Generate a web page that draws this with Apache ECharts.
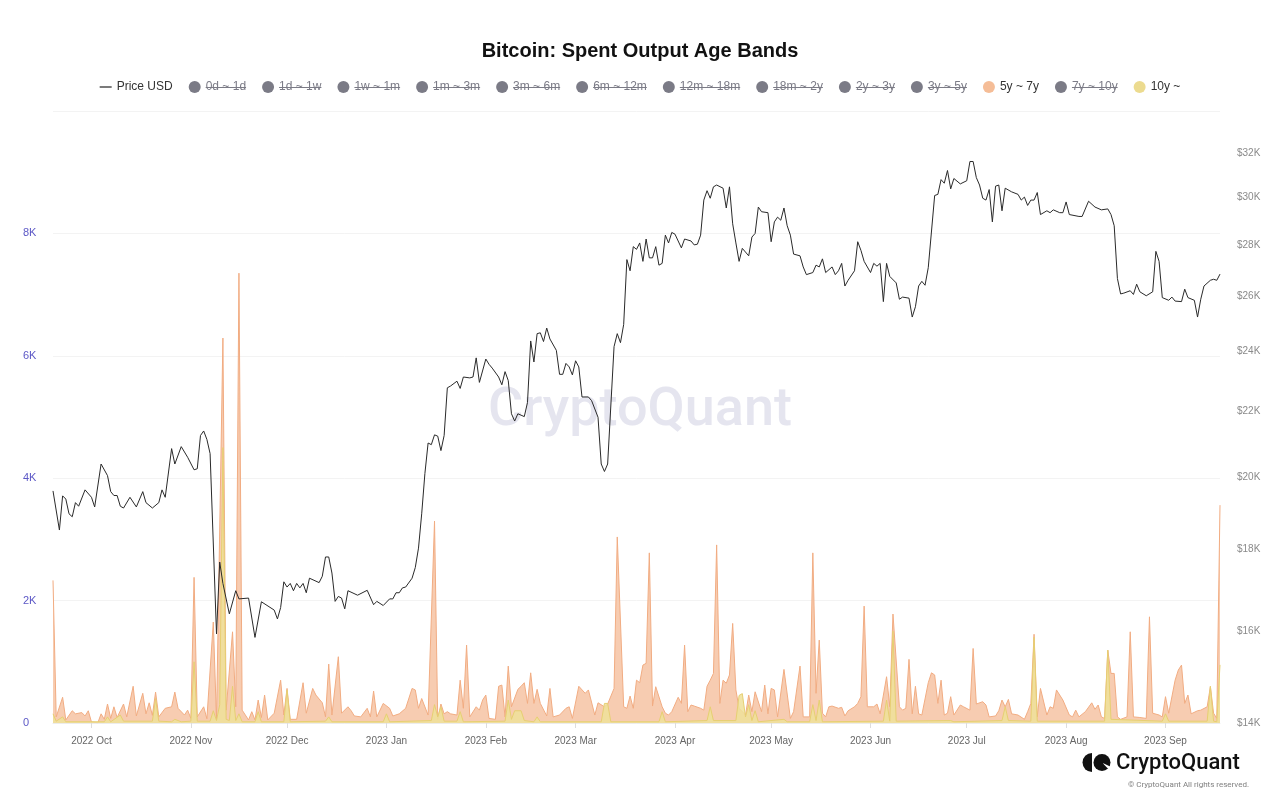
<!DOCTYPE html>
<html>
<head>
<meta charset="utf-8">
<script src="https://cdn.jsdelivr.net/npm/echarts@6.0.0/dist/echarts.min.js"></script>
<style>
html,body{margin:0;padding:0;background:#ffffff;}
#chart{width:1280px;height:806px;}
</style>
</head>
<body>
<div id="chart"></div>
<script>
// ---------- data ----------
const START_DATE = [2022, 8, 19]; // day 0 = 2022-09-19
const LAST_DAY = 364;
const monthNames = ['Jan','Feb','Mar','Apr','May','Jun','Jul','Aug','Sep','Oct','Nov','Dec'];
const leftTicks = [0, 2000, 4000, 6000, 8000, 10000];
const priceTicks = [14000,16000,18000,20000,22000,24000,26000,28000,30000,32000];

const legendNames = ['Price USD','0d ~ 1d','1d ~ 1w','1w ~ 1m','1m ~ 3m','3m ~ 6m','6m ~ 12m','12m ~ 18m','18m ~ 2y','2y ~ 3y','3y ~ 5y','5y ~ 7y','7y ~ 10y','10y ~'];
const inactiveNames = ['0d ~ 1d','1d ~ 1w','1w ~ 1m','1m ~ 3m','3m ~ 6m','6m ~ 12m','12m ~ 18m','18m ~ 2y','2y ~ 3y','3y ~ 5y','7y ~ 10y'];

// [day offset, price USD]
const pricePoints = [[0,19600],[2,18520],[3,19460],[4,19370],[5,18960],[6,18880],[7,19270],[8,19170],[10,19630],[12,19420],[13,19150],[15,20380],[17,20040],[18,19580],[19,19470],[20,19470],[21,19170],[22,19120],[24,19420],[26,19150],[28,19580],[29,19270],[31,19120],[33,19270],[34,19630],[35,19420],[37,20840],[38,20380],[40,20900],[42,20580],[44,20210],[45,20240],[46,21240],[47,21380],[48,21120],[49,20690],[51,15930],[52,17680],[53,17140],[55,16400],[57,16960],[58,16760],[61,16780],[63,15850],[65,16690],[69,16490],[70,16280],[71,16550],[72,17180],[73,17050],[74,17140],[75,16960],[76,17140],[77,17030],[78,17140],[79,16910],[80,17270],[83,17160],[84,17320],[85,17810],[86,17810],[87,17400],[88,16700],[89,16820],[90,16780],[91,16520],[92,16960],[95,16850],[98,16970],[100,16620],[101,16700],[103,16600],[105,16760],[106,16760],[107,16910],[108,16910],[109,17030],[110,17050],[112,17270],[113,17540],[114,18040],[115,18960],[116,20100],[117,21010],[118,20960],[119,21260],[120,21220],[121,20780],[122,21240],[123,22760],[124,22820],[126,22980],[127,22740],[128,23120],[130,23090],[131,23120],[132,23770],[133,22940],[135,23730],[136,23550],[137,23420],[139,23120],[140,22860],[141,23300],[142,23000],[143,21920],[144,21690],[145,21920],[147,21830],[148,22280],[149,24360],[150,23630],[151,24620],[152,24650],[153,24340],[154,24820],[155,24430],[157,24030],[158,23210],[159,23210],[160,23580],[161,23460],[162,23190],[163,23670],[164,23460],[165,22460],[167,22460],[168,22340],[170,21810],[171,20380],[172,20160],[173,20380],[175,24160],[176,24620],[177,24300],[178,24950],[179,27410],[180,26970],[181,27930],[182,27820],[183,28080],[184,27340],[185,28240],[186,27480],[187,27480],[188,27930],[189,27190],[190,27260],[191,28400],[192,28080],[193,28510],[194,28440],[196,27880],[197,28240],[199,28160],[200,28000],[201,28030],[202,28400],[203,29880],[204,30290],[205,29960],[206,30460],[207,30540],[209,30400],[210,29540],[211,30460],[212,28870],[213,28080],[214,27340],[215,27860],[217,27560],[218,28320],[219,28470],[220,29580],[221,29380],[223,29340],[224,28130],[225,28950],[226,29150],[227,29020],[228,29540],[229,28790],[230,28400],[231,27630],[233,27560],[234,27120],[235,26820],[237,26900],[238,27190],[239,27120],[240,27440],[241,26900],[243,27120],[244,26820],[245,26970],[246,27260],[247,26380],[248,26600],[250,26970],[251,28130],[252,27780],[253,27340],[255,26900],[256,27260],[257,27150],[258,27260],[259,25790],[260,27260],[261,26750],[263,26500],[264,25880],[265,25960],[267,25920],[268,25220],[269,25600],[270,26380],[271,26560],[272,26410],[273,27090],[275,30080],[276,30130],[277,30780],[278,30620],[279,31190],[280,30370],[281,30830],[283,30590],[285,30730],[286,31600],[287,31600],[288,30870],[289,30540],[290,29960],[291,29880],[292,30340],[293,28950],[294,30490],[295,30540],[296,29420],[297,30400],[299,30240],[301,30130],[302,29880],[303,30010],[304,29650],[305,29880],[306,29880],[307,30210],[308,29260],[310,29420],[311,29340],[312,29460],[314,29340],[315,29340],[316,29800],[317,29260],[320,29180],[321,29180],[323,29830],[325,29580],[327,29460],[329,29500],[330,29260],[331,28790],[332,26670],[333,26080],[334,26110],[336,26200],[337,26060],[338,26450],[339,26160],[341,26010],[343,26160],[344,27740],[345,27340],[346,25940],[348,25840],[349,25960],[350,25810],[352,25790],[353,26260],[354,25940],[356,25840],[357,25220],[358,25880],[359,26380],[361,26600],[362,26640],[363,26600],[364,26840]];

// [day offset, BTC spent] 5y ~ 7y
const band5y7y = [[0,2330],[1,100],[3,420],[4,50],[6,200],[7,150],[9,170],[10,115],[11,200],[12,16],[14,5],[15,150],[16,60],[17,310],[18,75],[19,265],[20,90],[22,310],[23,100],[25,600],[26,115],[28,485],[29,150],[30,330],[31,125],[32,505],[33,100],[35,240],[37,265],[38,505],[39,240],[41,130],[42,210],[43,75],[44,2380],[45,100],[47,265],[48,70],[50,1650],[51,50],[53,6290],[54,210],[56,1490],[57,265],[58,7350],[59,210],[61,50],[62,185],[63,50],[64,375],[65,90],[66,457],[67,50],[69,160],[71,700],[72,130],[73,565],[74,60],[76,60],[78,658],[79,160],[81,565],[82,457],[84,330],[85,100],[86,963],[87,130],[89,1083],[90,160],[92,265],[93,200],[94,115],[96,100],[98,240],[99,100],[100,522],[101,100],[103,320],[105,240],[106,115],[108,150],[110,240],[112,565],[113,540],[114,240],[115,400],[117,130],[119,3300],[120,60],[121,310],[122,150],[123,185],[124,150],[126,130],[127,700],[128,240],[129,1273],[130,100],[132,265],[133,210],[134,375],[135,457],[136,75],[138,60],[139,600],[140,620],[141,100],[142,930],[143,265],[145,550],[146,600],[147,658],[148,320],[149,820],[150,320],[151,550],[152,320],[154,115],[155,565],[156,100],[158,130],[160,240],[161,265],[162,75],[164,600],[166,485],[167,540],[169,130],[170,330],[172,265],[173,310],[175,565],[176,3040],[178,265],[179,240],[180,440],[181,240],[182,700],[183,658],[184,946],[185,975],[186,2780],[187,277],[188,593],[190,265],[191,160],[192,130],[193,185],[195,420],[196,320],[197,1273],[198,185],[199,294],[200,277],[202,240],[203,210],[204,600],[205,700],[206,810],[207,2910],[208,320],[209,700],[210,650],[211,785],[212,1627],[213,540],[214,240],[216,130],[217,457],[218,185],[219,510],[221,185],[222,620],[223,150],[224,565],[225,540],[226,100],[228,876],[230,75],[231,185],[233,930],[234,100],[236,100],[237,2780],[238,485],[239,1355],[240,160],[241,100],[242,265],[243,277],[245,240],[246,256],[247,115],[248,200],[250,265],[251,320],[252,430],[253,1910],[254,265],[256,265],[257,310],[258,150],[260,756],[261,265],[262,1780],[264,265],[265,210],[266,240],[267,1040],[268,150],[269,600],[270,150],[271,130],[273,658],[274,820],[275,785],[276,320],[277,700],[278,130],[279,160],[280,430],[281,130],[283,294],[284,265],[286,210],[287,1218],[288,310],[290,348],[291,294],[292,100],[294,115],[295,200],[296,375],[297,265],[298,386],[299,150],[301,130],[303,60],[304,185],[305,320],[306,1450],[307,100],[308,565],[310,130],[311,265],[312,240],[313,540],[315,375],[317,130],[318,100],[319,210],[320,100],[322,185],[324,330],[325,224],[326,294],[327,100],[328,75],[329,1190],[330,810],[331,810],[332,100],[333,60],[335,100],[336,1490],[337,100],[339,90],[341,75],[342,1735],[343,160],[345,130],[346,100],[347,430],[348,160],[350,700],[351,865],[352,946],[353,320],[354,457],[355,150],[357,200],[358,210],[360,265],[361,593],[362,160],[363,75],[364,3560]];

// [day offset, BTC spent] 10y ~
const band10y = [[0,150],[1,30],[3,100],[4,20],[10,20],[16,20],[17,100],[18,20],[21,130],[22,30],[31,30],[32,400],[33,30],[37,20],[38,60],[40,20],[43,30],[44,1000],[45,30],[49,30],[50,200],[51,40],[52,300],[53,4500],[54,60],[55,40],[56,600],[57,40],[58,150],[59,20],[63,20],[64,185],[65,20],[72,20],[73,540],[74,20],[85,30],[86,100],[87,20],[103,20],[104,150],[105,20],[118,40],[119,300],[120,100],[121,265],[122,30],[126,30],[127,185],[128,20],[141,30],[142,375],[143,60],[144,200],[146,200],[147,40],[150,20],[151,100],[152,20],[171,20],[172,320],[173,320],[174,20],[189,20],[190,185],[191,20],[204,40],[205,265],[206,40],[213,40],[214,450],[215,480],[216,100],[217,300],[218,40],[219,200],[220,20],[228,60],[229,20],[236,20],[237,300],[238,40],[239,375],[240,20],[259,30],[260,375],[261,30],[262,1500],[263,30],[280,40],[281,20],[296,40],[297,265],[298,40],[305,30],[306,1400],[307,30],[328,30],[329,1190],[330,60],[346,30],[347,150],[348,30],[360,30],[361,600],[362,30],[363,20],[364,950]];

// ---------- helpers ----------
const toTime = d => new Date(START_DATE[0], START_DATE[1], START_DATE[2] + d).getTime();
const toSeries = arr => arr.map(p => [toTime(p[0]), p[1]]);

const FONT = '"Liberation Sans", Arial, sans-serif';
const INACTIVE = '#7b7b86';

const chart = echarts.init(document.getElementById('chart'), null, {renderer: 'canvas'});

const selected = {};
legendNames.forEach(n => { selected[n] = inactiveNames.indexOf(n) < 0; });

const series = [];
series.push({
  name: 'Price USD', type: 'line', yAxisIndex: 1, showSymbol: false, z: 5,
  data: toSeries(pricePoints),
  itemStyle: {color: '#222222'},
  lineStyle: {color: '#2a2a2a', width: 1}
});
legendNames.slice(1).forEach(n => {
  if (n === '5y ~ 7y') {
    series.push({
      name: n, type: 'line', yAxisIndex: 0, showSymbol: false, z: 2,
      data: toSeries(band5y7y),
      itemStyle: {color: '#f5bd97'},
      lineStyle: {color: '#f1ac82', width: 1},
      areaStyle: {color: '#f6c6a8', opacity: 0.9}
    });
  } else if (n === '10y ~') {
    series.push({
      name: n, type: 'line', yAxisIndex: 0, showSymbol: false, z: 3,
      data: toSeries(band10y),
      itemStyle: {color: '#ecdb8f'},
      lineStyle: {color: '#e6cf72', width: 1},
      areaStyle: {color: '#efe09a', opacity: 0.85}
    });
  } else {
    series.push({name: n, type: 'line', yAxisIndex: 0, showSymbol: false, data: [], itemStyle: {color: INACTIVE}});
  }
});

const option = {
  animation: false,
  backgroundColor: '#ffffff',
  title: {
    text: 'Bitcoin: Spent Output Age Bands',
    left: 'center', top: 36,
    textStyle: {fontSize: 20, fontWeight: 'bold', color: '#111111', fontFamily: FONT}
  },
  legend: {
    top: 81, left: 'center', padding: 0,
    itemWidth: 12, itemHeight: 12, itemGap: 16,
    selectedMode: true,
    selected: selected,
    inactiveColor: INACTIVE,
    inactiveBorderWidth: 0,
    textStyle: {fontSize: 12, color: '#333333', fontFamily: FONT},
    data: legendNames.map(n => n === 'Price USD'
      ? {name: n, icon: 'path://M0,0h12v1.2h-12z'}
      : {name: n, icon: 'circle'})
  },
  grid: {left: 53, right: 60, top: 111, bottom: 83, containLabel: false, outerBoundsMode: 'none'},
  xAxis: {
    type: 'time',
    min: toTime(0), max: toTime(LAST_DAY),
    splitNumber: 12,
    axisLine: {show: true, lineStyle: {color: '#ececec'}},
    axisTick: {show: true, length: 5, lineStyle: {color: '#dddddd'}},
    splitLine: {show: false},
    axisLabel: {
      color: '#666666', fontSize: 10, fontFamily: FONT, margin: 13,
      showMinLabel: false, showMaxLabel: false,
      formatter: v => { const d = new Date(v); return d.getFullYear() + ' ' + monthNames[d.getMonth()]; }
    }
  },
  yAxis: [
    {
      type: 'value', position: 'left', min: leftTicks[0], max: leftTicks[leftTicks.length - 1], interval: 2000,
      axisLine: {show: false}, axisTick: {show: false},
      splitLine: {show: true, lineStyle: {color: '#f3f3f3', width: 1}},
      axisLabel: {
        showMaxLabel: false, align: 'left', margin: 30,
        color: '#5c58c6', fontSize: 11, fontFamily: FONT,
        formatter: v => v === 0 ? '0' : (v / 1000) + 'K'
      }
    },
    {
      type: 'log', logBase: 10, position: 'right', min: 14000, max: 34000,
      axisLine: {show: false}, axisTick: {show: false}, splitLine: {show: false},
      axisLabel: {
        customValues: priceTicks,
        margin: 17, color: '#8a8a8a', fontSize: 10, fontFamily: FONT,
        formatter: v => '$' + Math.round(v / 1000) + 'K'
      }
    }
  ],
  graphic: [
    {type: 'text', left: 'center', top: 384, z: 0, silent: true,
      style: {text: 'CryptoQuant', font: '500 54px Roboto, "Open Sans", sans-serif', fill: '#e5e5ef'}},
    {type: 'sector', silent: true, z: 10,
      shape: {cx: 1092, cy: 762.5, r: 9.5, r0: 0, startAngle: Math.PI / 2, endAngle: Math.PI * 1.5},
      style: {fill: '#111111'}},
    {type: 'circle', silent: true, z: 10,
      shape: {cx: 1102, cy: 762.5, r: 8.5}, style: {fill: '#111111'}},
    {type: 'sector', silent: true, z: 11,
      shape: {cx: 1102, cy: 762.5, r: 9, r0: 1.5, startAngle: 0.45, endAngle: 0.8},
      style: {fill: '#ffffff'}},
    {type: 'text', x: 1116, y: 763, silent: true, z: 10,
      style: {text: 'CryptoQuant', font: '500 22px Roboto, sans-serif', fill: '#111111', align: 'left', verticalAlign: 'middle'}},
    {type: 'text', x: 1249, y: 785, silent: true, z: 10,
      style: {text: '\u00A9 CryptoQuant All rights reserved.', font: '8px Roboto, sans-serif', fill: '#808080', align: 'right', verticalAlign: 'middle'}}
  ],
  series: series
};

chart.setOption(option);

// strike-through for hidden legend entries
function addStrikes() {
  try {
    const zr = chart.getZr();
    const views = chart._componentsViews || [];
    views.forEach(v => {
      if (!v || !v.type || String(v.type).indexOf('legend') !== 0) return;
      v.group.traverse(el => {
        if (el.type === 'text' && el.style && inactiveNames.indexOf(el.style.text) >= 0) {
          const r = el.getBoundingRect().clone();
          const m = el.getComputedTransform();
          if (m) r.applyTransform(m);
          const y = Math.round(r.y + r.height / 2) + 0.5;
          zr.add(new echarts.graphic.Line({
            shape: {x1: r.x, y1: y, x2: r.x + r.width, y2: y},
            style: {stroke: INACTIVE, lineWidth: 1}, z: 1000, zlevel: 0, silent: true
          }));
        }
      });
    });
  } catch (e) { /* ignore */ }
}
addStrikes();
</script>
</body>
</html>
